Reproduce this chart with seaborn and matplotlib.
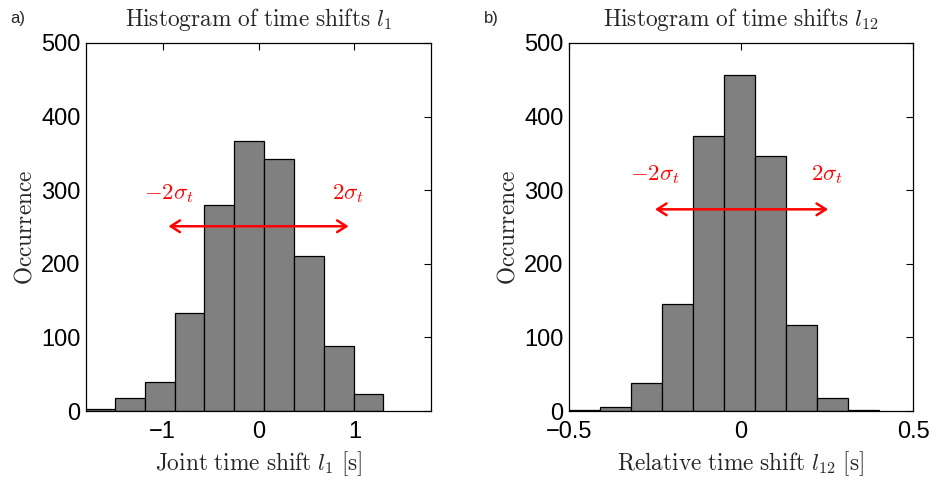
import numpy as np
import pandas as pd
import matplotlib
matplotlib.use("Agg")
import matplotlib.pyplot as plt
import seaborn as sns

# Data
edges_a = [-1.80, -1.497, -1.186, -0.875, -0.564, -0.253, 0.058, 0.369, 0.680, 0.991, 1.302]
counts_a = [3, 17, 40, 133, 280, 367, 343, 210, 88, 23]
edges_b = [-0.500, -0.410, -0.320, -0.230, -0.140, -0.050, 0.040, 0.130, 0.220, 0.310, 0.400]
counts_b = [2, 5, 38, 145, 373, 457, 347, 117, 17, 2]

sns.set_theme(style="white")
plt.rcParams['font.family'] = ['Liberation Sans', 'DejaVu Sans']
plt.rcParams['mathtext.fontset'] = 'cm'

fig = plt.figure(figsize=(9.33, 4.82), dpi=100)
axA = fig.add_axes([0.0922, 0.1473, 0.3698, 0.7635])
axB = fig.add_axes([0.6099, 0.1473, 0.3687, 0.7635])

def draw(ax, edges, counts, xlim, xticks, xticklabels, title, xlabel, arrow, lab_l, lab_r, laby):
    centers = [(edges[i] + edges[i + 1]) / 2 for i in range(len(counts))]
    df = pd.DataFrame({"x": centers, "w": counts})
    sns.histplot(data=df, x="x", weights="w", bins=edges, ax=ax,
                 color="#808080", edgecolor="black", linewidth=0.9, alpha=1.0)
    ax.set_xlim(*xlim)
    ax.set_ylim(0, 500)
    ax.set_xticks(xticks)
    ax.set_xticklabels(xticklabels)
    ax.set_yticks([0, 100, 200, 300, 400, 500])
    ax.tick_params(direction="in", length=5, width=0.8, top=True, right=True,
                   labelsize=17, colors="black")
    ax.tick_params(axis="x", pad=7)
    ax.tick_params(axis="y", pad=4)
    for s in ax.spines.values():
        s.set_color("black")
        s.set_linewidth(0.9)
        s.set_visible(True)
    ax.set_title(r"$\mathrm{Histogram\ of\ time\ shifts}\ " + title + "$", fontsize=16.8, pad=12)
    ax.set_xlabel(r"$\mathrm{" + xlabel[0] + r"}\ " + xlabel[1] + r"\ \mathrm{[s]}$", fontsize=16.8, labelpad=5)
    ax.set_ylabel(r"$\mathrm{Occurrence}$", fontsize=16.8, labelpad=3)
    ax.annotate("", xy=(arrow[1], arrow[2]), xytext=(arrow[0], arrow[2]),
                arrowprops=dict(arrowstyle="<->,head_length=0.55,head_width=0.35", color="red", lw=1.8,
                                shrinkA=0, shrinkB=0))
    ax.text(lab_l, laby, r"$-2\sigma_t$", color="red", fontsize=16.5, ha="center", va="center")
    ax.text(lab_r, laby, r"$2\sigma_t$", color="red", fontsize=16.5, ha="center", va="center")

draw(axA, edges_a, counts_a, (-1.8, 1.8), [-1, 0, 1], ["\u22121", "0", "1"],
     "l_1", ("Joint\\ time\\ shift", "l_1"), (-0.94, 0.94, 251), -0.94, 0.93, 296)
draw(axB, edges_b, counts_b, (-0.5, 0.5), [-0.5, 0, 0.5], ["\u22120.5", "0", "0.5"],
     "l_{12}", ("Relative\\ time\\ shift", "l_{12}"), (-0.25, 0.253, 274), -0.25, 0.25, 322)

fig.text(0.011, 0.962, "a)", fontsize=12, ha="left", va="center")
fig.text(0.519, 0.962, "b)", fontsize=12, ha="left", va="center")

fig.savefig("out.png", dpi=100)
